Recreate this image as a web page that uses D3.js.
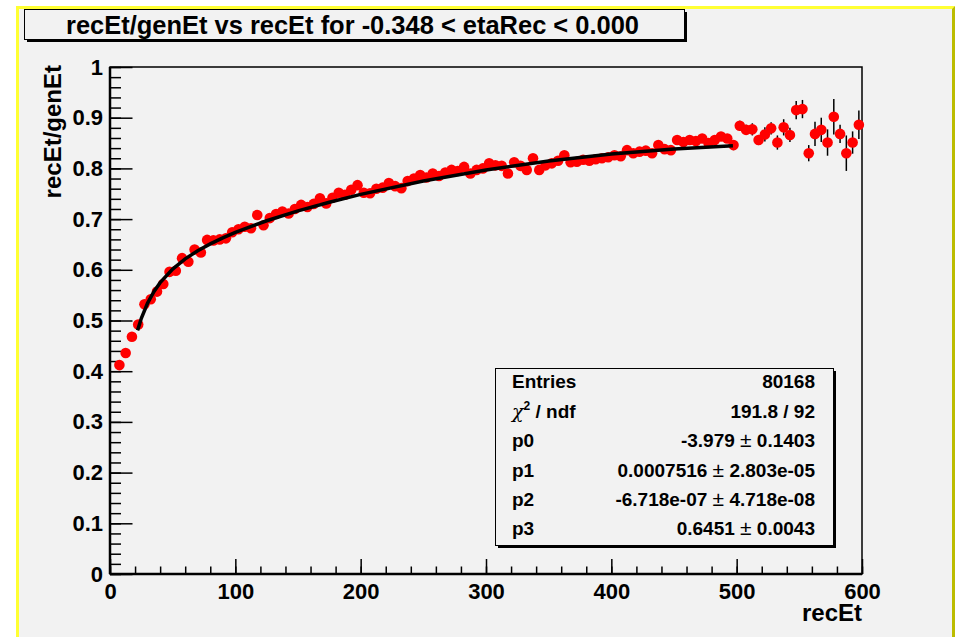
<!DOCTYPE html>
<html><head><meta charset="utf-8">
<script src="https://cdn.jsdelivr.net/npm/d3@7"></script>
<style>
body{margin:0;background:#fff;}
svg{display:block;font-family:"Liberation Sans",Arial,Helvetica,sans-serif;font-weight:bold;}
</style>
</head><body>
<svg id="c" width="955" height="637"></svg>
<script>
// ---------------- data ----------------
const recEt = [7.5,12.5,17.5,22.5,27.5,32.5,37.5,42.5,47.5,52.5,57.5,62.5,67.5,72.5,77.5,82.5,87.5,92.5,97.5,
102.5,107.5,112.5,117.5,122.5,127.5,132.5,137.5,142.5,147.5,152.5,157.5,162.5,167.5,172.5,177.5,182.5,187.5,192.5,197.5,
202.5,207.5,212.5,217.5,222.5,227.5,232.5,237.5,242.5,247.5,252.5,257.5,262.5,267.5,272.5,277.5,282.5,287.5,292.5,297.5,
302.5,307.5,312.5,317.5,322.5,327.5,332.5,337.5,342.5,347.5,352.5,357.5,362.5,367.5,372.5,377.5,382.5,387.5,392.5,397.5,
402.5,407.5,412.5,417.5,422.5,427.5,432.5,437.5,442.5,447.5,452.5,457.5,462.5,467.5,472.5,477.5,482.5,487.5,492.5,497.5,
502.5,507.5,512.5,517.5,522.5,527.5,532.5,537.5,542.5,547.5,552.5,557.5,562.5,567.5,572.5,577.5,582.5,587.5,592.5,597.5];
const ratio = [0.412,0.436,0.468,0.492,0.532,0.542,0.557,0.572,0.596,0.598,0.623,0.616,0.640,0.634,0.659,0.658,0.660,0.662,0.674,
0.680,0.685,0.682,0.708,0.688,0.702,0.710,0.715,0.711,0.720,0.728,0.724,0.730,0.741,0.731,0.742,0.752,0.748,0.758,0.767,
0.752,0.751,0.760,0.762,0.771,0.765,0.761,0.775,0.780,0.787,0.782,0.790,0.785,0.792,0.797,0.795,0.803,0.790,0.797,0.800,
0.810,0.806,0.805,0.790,0.812,0.805,0.797,0.820,0.797,0.806,0.810,0.815,0.826,0.812,0.813,0.817,0.815,0.818,0.820,0.822,
0.826,0.824,0.836,0.830,0.833,0.835,0.830,0.846,0.838,0.836,0.856,0.852,0.856,0.854,0.859,0.850,0.856,0.863,0.859,0.846,
0.884,0.876,0.877,0.856,0.867,0.879,0.851,0.881,0.866,0.915,0.917,0.830,0.868,0.876,0.851,0.902,0.868,0.830,0.851,0.886];
const ratioErr = [0.003,0.003,0.003,0.003,0.003,0.003,0.003,0.003,0.003,0.003,0.003,0.003,0.003,0.003,0.003,0.003,0.003,0.003,0.003,
0.003,0.003,0.003,0.003,0.003,0.003,0.003,0.003,0.003,0.003,0.003,0.003,0.003,0.003,0.003,0.003,0.003,0.003,0.003,0.003,
0.004,0.004,0.004,0.004,0.004,0.004,0.004,0.004,0.004,0.004,0.004,0.004,0.004,0.004,0.004,0.004,0.004,0.004,0.004,0.004,
0.005,0.005,0.005,0.005,0.005,0.005,0.005,0.005,0.005,0.005,0.005,0.005,0.005,0.005,0.005,0.005,0.005,0.005,0.005,0.005,
0.006,0.006,0.006,0.006,0.006,0.006,0.006,0.007,0.007,0.007,0.007,0.007,0.007,0.008,0.008,0.008,0.008,0.008,0.008,0.010,
0.010,0.010,0.012,0.010,0.014,0.012,0.014,0.016,0.014,0.018,0.018,0.016,0.024,0.024,0.026,0.035,0.018,0.035,0.022,0.028];
// fit curve (as drawn), sampled
const fitX = [22,25,30,35,40,50,60,70,80,90,100,125,150,175,200,250,300,350,400,450,497];
const fitY = [0.4805,0.5043,0.5344,0.5569,0.5746,0.6014,0.6215,0.6376,0.6512,0.6631,0.6738,0.6967,0.7162,0.7333,0.7487,0.7751,0.7969,0.8145,0.8283,0.8384,0.8446];
const xTicks = [0,100,200,300,400,500,600];
const yTicks = [0,0.1,0.2,0.3,0.4,0.5,0.6,0.7,0.8,0.9,1];
const titleText = "recEt/genEt vs recEt for -0.348 < etaRec < 0.000";
const xTitle = "recEt", yTitle = "recEt/genEt";
const statLabels = ["Entries","chi2","p0","p1","p2","p3"];
const statValues = [["80168"],["191.8 / 92"],["-3.979","0.1403"],["0.0007516","2.803e-05"],["-6.718e-07","4.718e-08"],["0.6451","0.0043"]];

// ---------------- layout ----------------
const svg = d3.select("#c");
const L=110,R=862,T=67,B=574;
const x = d3.scaleLinear().domain([0,600]).range([L,R]);
const y = d3.scaleLinear().domain([0,1]).range([B,T]);

// canvas background & bevel border
svg.append("rect").attr("x",16).attr("y",6).attr("width",939).attr("height",631).attr("fill","#f2f2f2");
svg.append("polygon").attr("points","16,6 955,6 952,9 19,9 19,637 16,637").attr("fill","#ffff33");
svg.append("polygon").attr("points","955,6 955,637 952,637 952,9").attr("fill","#bcbc00");

// title box
svg.append("rect").attr("x",27).attr("y",12).attr("width",660).attr("height",30).attr("fill","#000");
svg.append("rect").attr("x",24.5).attr("y",9.5).attr("width",660).attr("height",30).attr("fill","#f2f2f2").attr("stroke","#000").attr("stroke-width",1);
svg.append("text").attr("x",66).attr("y",33.5).attr("font-size",25.5).attr("textLength",573).attr("lengthAdjust","spacingAndGlyphs").text(titleText);

// axes
const gx = svg.append("g").attr("transform",`translate(0,${B})`);
gx.call(d3.axisBottom(x).tickValues(d3.range(0,601,20)).tickSize(-7.5).tickFormat(""));
gx.call(g=>g.selectAll(".tick line").attr("stroke","#000").attr("stroke-width",1.5));
const gx2 = svg.append("g").attr("transform",`translate(0,${B})`);
gx2.call(d3.axisBottom(x).tickValues(xTicks).tickSize(-15).tickPadding(9).tickFormat(d3.format("d")));
gx2.selectAll(".tick line").attr("stroke","#000").attr("stroke-width",1.5);
gx2.selectAll("text").attr("font-size",22).attr("font-family",null).attr("fill","#000");
gx.select(".domain").remove(); gx2.select(".domain").remove();

const gy = svg.append("g").attr("transform",`translate(${L},0)`);
gy.call(d3.axisLeft(y).tickValues(d3.range(0,51).map(i=>i/50)).tickSize(-11).tickFormat(""));
gy.selectAll(".tick line").attr("stroke","#000").attr("stroke-width",1.5);
const gy2 = svg.append("g").attr("transform",`translate(${L},0)`);
gy2.call(d3.axisLeft(y).tickValues(yTicks).tickSize(-22.5).tickPadding(7).tickFormat(d=>d===0?"0":d===1?"1":d3.format(".1f")(d)));
gy2.selectAll(".tick line").attr("stroke","#000").attr("stroke-width",1.5);
gy2.selectAll("text").attr("font-size",22).attr("font-family",null).attr("fill","#000");
gy.select(".domain").remove(); gy2.select(".domain").remove();

// frame
svg.append("rect").attr("x",L).attr("y",T).attr("width",R-L).attr("height",B-T).attr("fill","none").attr("stroke","#000").attr("stroke-width",1.5);
svg.append("line").attr("x1",L).attr("x2",R).attr("y1",B).attr("y2",B).attr("stroke","#000").attr("stroke-width",2.5);
svg.append("line").attr("x1",L).attr("x2",L).attr("y1",T).attr("y2",B).attr("stroke","#000").attr("stroke-width",2.5);

// axis titles
svg.append("text").attr("x",R).attr("y",621).attr("text-anchor","end").attr("font-size",24).text(xTitle);
svg.append("text").attr("transform",`translate(61,${T-2}) rotate(-90)`).attr("text-anchor","end").attr("font-size",24).text(yTitle);

// data
const pts = recEt.map((v,i)=>({x:v,y:ratio[i],e:ratioErr[i]}));
const gd = svg.append("g");
gd.selectAll("line.err").data(pts).join("line").attr("class","err")
  .attr("x1",d=>x(d.x)).attr("x2",d=>x(d.x)).attr("y1",d=>y(d.y-d.e)).attr("y2",d=>y(d.y+d.e))
  .attr("stroke","#000").attr("stroke-width",1.5);
gd.selectAll("circle").data(pts).join("circle")
  .attr("cx",d=>x(d.x)).attr("cy",d=>y(d.y)).attr("r",5.3).attr("fill","#ff0000");

// fit
const fitPts = fitX.map((v,i)=>[v,fitY[i]]);
svg.append("path").datum(fitPts).attr("fill","none").attr("stroke","#000").attr("stroke-width",3.5)
  .attr("d",d3.line().x(d=>x(d[0])).y(d=>y(d[1])));

// stats box
const sx=495, sy=368, sw=338, sh=177;
svg.append("rect").attr("x",sx+3).attr("y",sy+3).attr("width",sw).attr("height",sh).attr("fill","#000");
svg.append("rect").attr("x",sx+0.5).attr("y",sy+0.5).attr("width",sw).attr("height",sh).attr("fill","#f2f2f2").attr("stroke","#000").attr("stroke-width",1);
const rowY = [381,411,440,470,499,528];
statLabels.forEach((lab,i)=>{
  const t = svg.append("text").attr("x",512).attr("y",rowY[i]+7).attr("font-size",19);
  if(lab==="chi2"){
    t.append("tspan").attr("font-family","'DejaVu Serif',serif").attr("font-style","italic").attr("font-weight","normal").text("\u03C7");
    t.append("tspan").attr("font-size",12).attr("dy",-8).text("2");
    t.append("tspan").attr("dy",8).text(" / ndf");
  } else t.text(lab);
  const v = statValues[i];
  const tv = svg.append("text").attr("x",815).attr("y",rowY[i]+7).attr("font-size",19).attr("text-anchor","end");
  if(v.length===1) tv.text(v[0]);
  else {
    tv.append("tspan").text(v[0]+" ");
    tv.append("tspan").attr("font-weight","normal").attr("font-size",21).text("\u00B1");
    tv.append("tspan").text(" "+v[1]);
  }
});
</script>
</body></html>
